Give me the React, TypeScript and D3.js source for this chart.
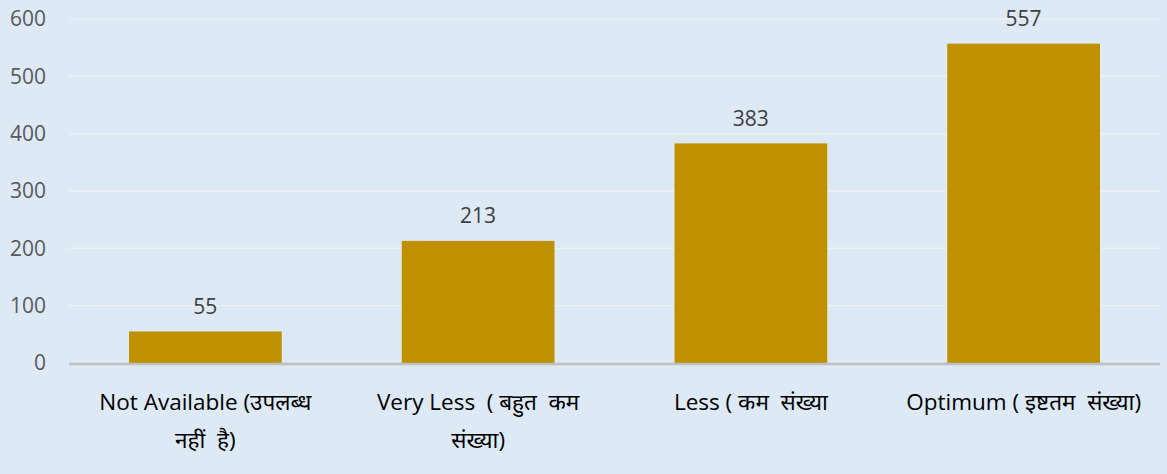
import React, { useEffect, useRef } from 'react';
import * as d3 from 'd3';

const categories = [
  ['Not Available (उपलब्ध', 'नहीं  है)'],
  ['Very Less  ( बहुत  कम', 'संख्या)'],
  ['Less ( कम  संख्या'],
  ['Optimum ( इष्टतम  संख्या)'],
];
const values = [55, 213, 383, 557];
const yTicks = [0, 100, 200, 300, 400, 500, 600];

const width = 1167;
const height = 474;
const margin = { top: 19, right: 7, bottom: 110, left: 69 };
const font = '"Open Sans", "Noto Sans", sans-serif';

export default function App() {
  const ref = useRef<SVGSVGElement>(null);

  useEffect(() => {
    const svg = d3.select(ref.current);
    svg.selectAll('*').remove();

    const x = d3.scaleBand()
      .domain(categories.map((_, i) => String(i)))
      .range([margin.left, width - margin.right])
      .paddingInner(0.44)
      .paddingOuter(0.22);

    const y = d3.scaleLinear()
      .domain([0, 600])
      .range([height - margin.bottom - 1, margin.top]);

    svg.append('rect')
      .attr('width', width)
      .attr('height', height)
      .attr('fill', '#dde9f5');

    // grid + tick labels
    const yAxis = svg.append('g').attr('class', 'y-axis');
    yAxis.selectAll('line')
      .data(yTicks.filter(t => t > 0))
      .join('line')
      .attr('x1', margin.left)
      .attr('x2', width - margin.right)
      .attr('y1', d => y(d))
      .attr('y2', d => y(d))
      .attr('stroke', '#eef1f4')
      .attr('stroke-width', 1.5);

    yAxis.selectAll('text')
      .data(yTicks)
      .join('text')
      .attr('x', 46)
      .attr('y', d => y(d))
      .attr('dy', '0.35em')
      .attr('text-anchor', 'end')
      .attr('font-family', font)
      .attr('font-size', 21)
      .attr('fill', '#595959')
      .text(d => d);

    // bars
    svg.append('g')
      .selectAll('rect')
      .data(values)
      .join('rect')
      .attr('x', (_, i) => x(String(i))!)
      .attr('width', x.bandwidth())
      .attr('y', d => y(d))
      .attr('height', d => y(0) - y(d))
      .attr('fill', '#bf9000');

    // value labels
    svg.append('g')
      .selectAll('text')
      .data(values)
      .join('text')
      .attr('x', (_, i) => x(String(i))! + x.bandwidth() / 2)
      .attr('y', d => y(d) - 25)
      .attr('dy', '0.35em')
      .attr('text-anchor', 'middle')
      .attr('font-family', font)
      .attr('font-size', 21)
      .attr('fill', '#404040')
      .text(d => d);

    // baseline
    svg.append('line')
      .attr('x1', margin.left)
      .attr('x2', width - margin.right)
      .attr('y1', y(0) + 1)
      .attr('y2', y(0) + 1)
      .attr('stroke', '#bfbfbf')
      .attr('stroke-width', 2.5);

    // category labels
    const cat = svg.append('g')
      .selectAll('text')
      .data(categories)
      .join('text')
      .attr('text-anchor', 'middle')
      .attr('font-family', font)
      .attr('font-size', 22.5)
      .attr('fill', '#000')
      .style('white-space', 'pre');

    cat.selectAll('tspan')
      .data((d, i) => d.map(line => ({ line, i })))
      .join('tspan')
      .attr('x', d => x(String(d.i))! + x.bandwidth() / 2)
      .attr('y', (_, j) => 402 + j * 38)
      .attr('dy', '0.35em')
      .text(d => d.line);
  }, []);

  return (
    <div style={{ position: 'absolute', left: 0, top: 0 }}>
      <svg ref={ref} width={width} height={height} style={{ display: 'block' }} />
    </div>
  );
}
